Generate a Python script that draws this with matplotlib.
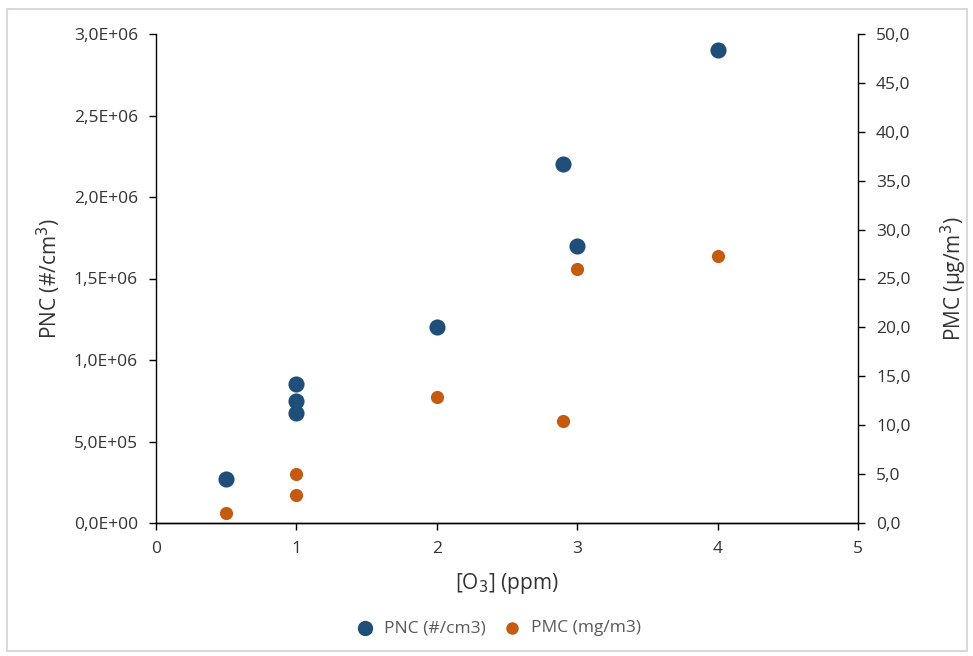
import matplotlib.pyplot as plt
from matplotlib.ticker import FuncFormatter, MultipleLocator
from matplotlib.patches import Rectangle

plt.rcParams['font.family'] = ['Open Sans', 'DejaVu Sans']

# data
pnc_x = [0.5, 1.0, 1.0, 1.0, 2.0, 2.9, 3.0, 4.0]
pnc_y = [2.7e5, 8.5e5, 7.5e5, 6.75e5, 1.2e6, 2.2e6, 1.7e6, 2.9e6]
pmc_x = [0.5, 1.0, 1.0, 2.0, 2.9, 3.0, 4.0]
pmc_y = [1.0, 5.0, 2.9, 12.9, 10.4, 26.0, 27.3]

blue = '#1F4E79'
orange = '#C55A11'
txt = '#333333'

fig = plt.figure(figsize=(9.73, 6.56), dpi=100)
ax = fig.add_axes([156/973, 1-523/656, (858-156)/973, (523-34)/656])
ax2 = ax.twinx()

h1 = ax.scatter(pnc_x, pnc_y, s=135, color=blue, zorder=3, linewidths=0)
h2 = ax2.scatter(pmc_x, pmc_y, s=90, color=orange, zorder=3, linewidths=0)

ax.set_xlim(0, 5)
ax.set_ylim(0, 3.0e6)
ax2.set_ylim(0, 50)
ax.xaxis.set_major_locator(MultipleLocator(1))
ax.yaxis.set_major_locator(MultipleLocator(5e5))
ax2.yaxis.set_major_locator(MultipleLocator(5))


def sci_comma(v, pos):
    if v == 0:
        return '0,0E+00'
    s = f'{v:.1E}'
    return s.replace('.', ',')


ax.yaxis.set_major_formatter(FuncFormatter(sci_comma))
ax2.yaxis.set_major_formatter(FuncFormatter(lambda v, p: f'{v:.1f}'.replace('.', ',')))

for a in (ax, ax2):
    a.spines['top'].set_visible(False)
    for sp in a.spines.values():
        sp.set_color('black')
        sp.set_linewidth(1.0)
    a.tick_params(axis='both', direction='out', length=5, width=1,
                  labelsize=12.5, colors='black', labelcolor=txt, pad=8)
ax2.spines['left'].set_visible(False)
ax.spines['right'].set_visible(False)

ax.set_xlabel('[O$_3$] (ppm)', fontsize=15, color=txt, labelpad=10)
ax.set_ylabel('PNC (#/cm$^3$)', fontsize=15, color=txt, labelpad=8)
ax2.set_ylabel('PMC (µg/m$^3$)', fontsize=15, color=txt, labelpad=20, rotation=90)

leg = fig.legend([h1, h2], ['PNC (#/cm3)', 'PMC (mg/m3)'], loc='center',
                 bbox_to_anchor=(494/973, 1-628/656), ncol=2, frameon=False,
                 fontsize=12.5, handletextpad=0.1, columnspacing=0.5,
                 markerscale=0.95)
for t in leg.get_texts():
    t.set_color('#595959')

fig.patches.append(Rectangle((7/973, 1-651/656), 960/973, 642/656,
                             transform=fig.transFigure, fill=False,
                             edgecolor='#D9D9D9', linewidth=1.5))

fig.savefig('out.png', dpi=100)
